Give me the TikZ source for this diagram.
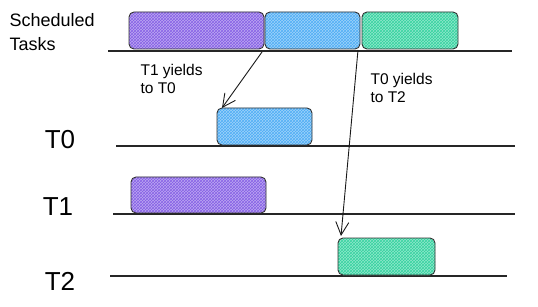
\documentclass[tikz,border=0pt]{standalone}
\usepackage{fontspec}
\setmainfont{Liberation Sans}
\usetikzlibrary{patterns,arrows.meta}
\definecolor{tpurple}{HTML}{8660E6}
\definecolor{tblue}{HTML}{4FAEF5}
\definecolor{tgreen}{HTML}{35D3A0}
\tikzset{
  task/.style={draw=black!80, line width=0.9pt, rounded corners=5pt},
  pur/.style={task, preaction={fill=tpurple!55}, pattern=crosshatch, pattern color=tpurple},
  blu/.style={task, preaction={fill=tblue!55}, pattern=crosshatch, pattern color=tblue},
  grn/.style={task, preaction={fill=tgreen!55}, pattern=crosshatch, pattern color=tgreen},
  timeline/.style={draw=black!85, line width=1.1pt},
  big/.style={font=\fontsize{26}{28}\selectfont},
  note/.style={font=\fontsize{15.5}{18}\selectfont, align=left},
  yield/.style={draw=black!90, line width=0.9pt, -{Straight Barb[length=13pt,width=13pt]}}
}
\begin{document}
\begin{tikzpicture}[x=1pt,y=-1pt]
\useasboundingbox (0,0) rectangle (538,307);
% top row
\draw[pur] (129,12) rectangle (264,49);
\draw[blu] (265,12) rectangle (360,49);
\draw[grn] (362,12) rectangle (458,49);
\coordinate (s0) at (108,51);
\coordinate (s1) at (512,51);
\draw[timeline] (s0) -- (s1);
\node[anchor=west, font=\fontsize{18}{24}\selectfont, align=left] (sched) at (6,32) {Scheduled\\Tasks};
% T0
\node[big] (lt0) at (60,140) {T0};
\coordinate (a0) at (116,146);
\coordinate (b0) at (515,146);
\draw[timeline] (a0) -- (b0);
\draw[blu] (217,108) rectangle (312,145);
% T1
\node[big] (lt1) at (58,207) {T1};
\coordinate (a1) at (113,214);
\coordinate (b1) at (515,214);
\draw[timeline] (a1) -- (b1);
\draw[pur] (131,177) rectangle (266,213);
% T2
\node[big] (lt2) at (60,281) {T2};
\coordinate (a2) at (110,276);
\coordinate (b2) at (507,276);
\draw[timeline] (a2) -- (b2);
\draw[grn] (338,238) rectangle (435,275);
% arrows
\coordinate (y1s) at (262,52);
\coordinate (y1e) at (222,108);
\draw[yield] (y1s) -- (y1e);
\coordinate (y2s) at (358,50);
\coordinate (y2e) at (341,236);
\draw[yield] (y2s) -- (y2e);
\node[note, anchor=west] (n1) at (137,79) {T1 yields\\to T0};
\node[note, anchor=west] (n2) at (367,88) {T0 yields\\to T2};
\end{tikzpicture}
\end{document}
